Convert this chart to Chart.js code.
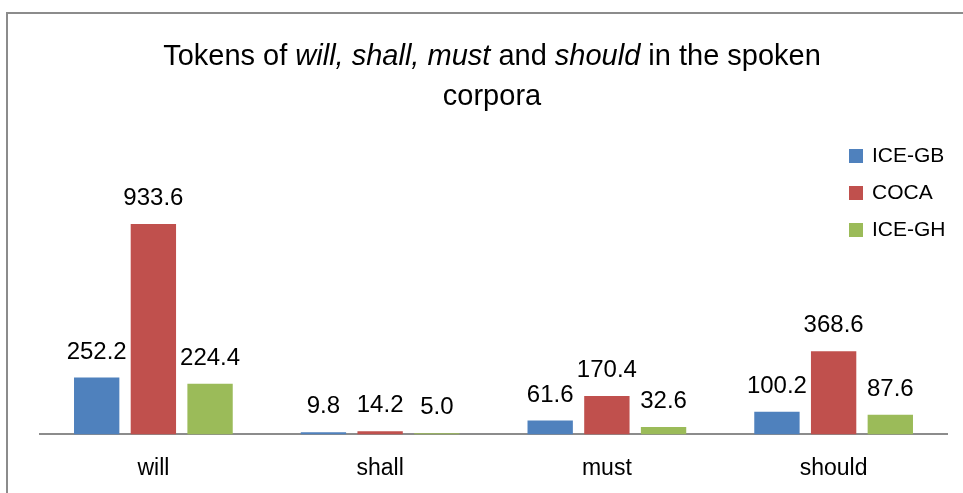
<!DOCTYPE html>
<html>
<head>
<meta charset="utf-8">
<script src="https://cdn.jsdelivr.net/npm/chart.js@4/dist/chart.umd.min.js"></script>
<style>
  html, body { margin: 0; padding: 0; background: #fff; }
  #wrap { width: 963px; height: 493px; position: relative; }
</style>
</head>
<body>
<div id="wrap"><canvas id="grafico" width="963" height="493"></canvas></div>
<script>
const categorias = ['will', 'shall', 'must', 'should'];
const series = ['ICE-GB', 'COCA', 'ICE-GH'];
const iceGB = [252.2, 9.8, 61.6, 100.2];
const coca = [933.6, 14.2, 170.4, 368.6];
const iceGH = [224.4, 5.0, 32.6, 87.6];
const cores = ['#4F81BD', '#C0504D', '#9BBB59'];

// title pieces: [text, italic]
const tituloLinha1 = [['Tokens of ', false], ['will, shall, must', true], [' and ', false], ['should', true], [' in the spoken', false]];
const tituloLinha2 = [['corpora', false]];

const fonte = '"Liberation Sans", Arial, sans-serif';

// frame + title
const moldura = {
  id: 'moldura',
  beforeDraw(chart) {
    const c = chart.ctx;
    c.save();
    c.strokeStyle = '#8c8c8c';
    c.lineWidth = 2;
    c.beginPath();
    c.moveTo(7, 493);
    c.lineTo(7, 13);
    c.lineTo(963, 13);
    c.stroke();

    const tam = 29;
    const linhas = [[tituloLinha1, 65], [tituloLinha2, 105]];
    c.fillStyle = '#000';
    c.textBaseline = 'alphabetic';
    c.textAlign = 'left';
    linhas.forEach(([partes, y]) => {
      let total = 0;
      partes.forEach(([t, it]) => {
        c.font = (it ? 'italic ' : '') + tam + 'px ' + fonte;
        total += c.measureText(t).width;
      });
      let x = 492 - total / 2;
      partes.forEach(([t, it]) => {
        c.font = (it ? 'italic ' : '') + tam + 'px ' + fonte;
        c.fillText(t, x, y);
        x += c.measureText(t).width;
      });
    });
    c.restore();
  }
};

// value labels above bars + legend
const rotulos = {
  id: 'rotulos',
  afterDatasetsDraw(chart) {
    const c = chart.ctx;
    c.save();
    c.font = '24px ' + fonte;
    c.fillStyle = '#000';
    c.textAlign = 'center';
    c.textBaseline = 'alphabetic';
    chart.data.datasets.forEach((ds, i) => {
      chart.getDatasetMeta(i).data.forEach((bar, j) => {
        c.fillText(ds.data[j].toFixed(1), bar.x, bar.y - 19);
      });
    });

    // legend
    c.font = '21px ' + fonte;
    c.textAlign = 'left';
    c.textBaseline = 'middle';
    chart.data.datasets.forEach((ds, i) => {
      const y = 156 + i * 37;
      c.fillStyle = ds.backgroundColor;
      c.fillRect(849, y - 7, 14, 14);
      c.fillStyle = '#000';
      c.fillText(ds.label, 872, y);
    });
    c.restore();
  }
};

new Chart(document.getElementById('grafico').getContext('2d'), {
  type: 'bar',
  data: {
    labels: categorias,
    datasets: [
      { label: series[0], data: iceGB, backgroundColor: cores[0] },
      { label: series[1], data: coca, backgroundColor: cores[1] },
      { label: series[2], data: iceGH, backgroundColor: cores[2] }
    ]
  },
  options: {
    responsive: false,
    animation: false,
    layout: { padding: { top: 209, left: 40, right: 16, bottom: -9 } },
    datasets: { bar: { categoryPercentage: 0.75, barPercentage: 0.8 } },
    plugins: { legend: { display: false }, title: { display: false }, tooltip: { enabled: false } },
    scales: {
      x: {
        grid: { display: false, drawTicks: false },
        border: { display: true, color: '#8c8c8c', width: 2 },
        ticks: { color: '#000', padding: 20, font: { family: fonte, size: 23 } }
      },
      y: { display: false, min: 0, max: 1000 }
    }
  },
  plugins: [moldura, rotulos]
});
</script>
</body>
</html>
